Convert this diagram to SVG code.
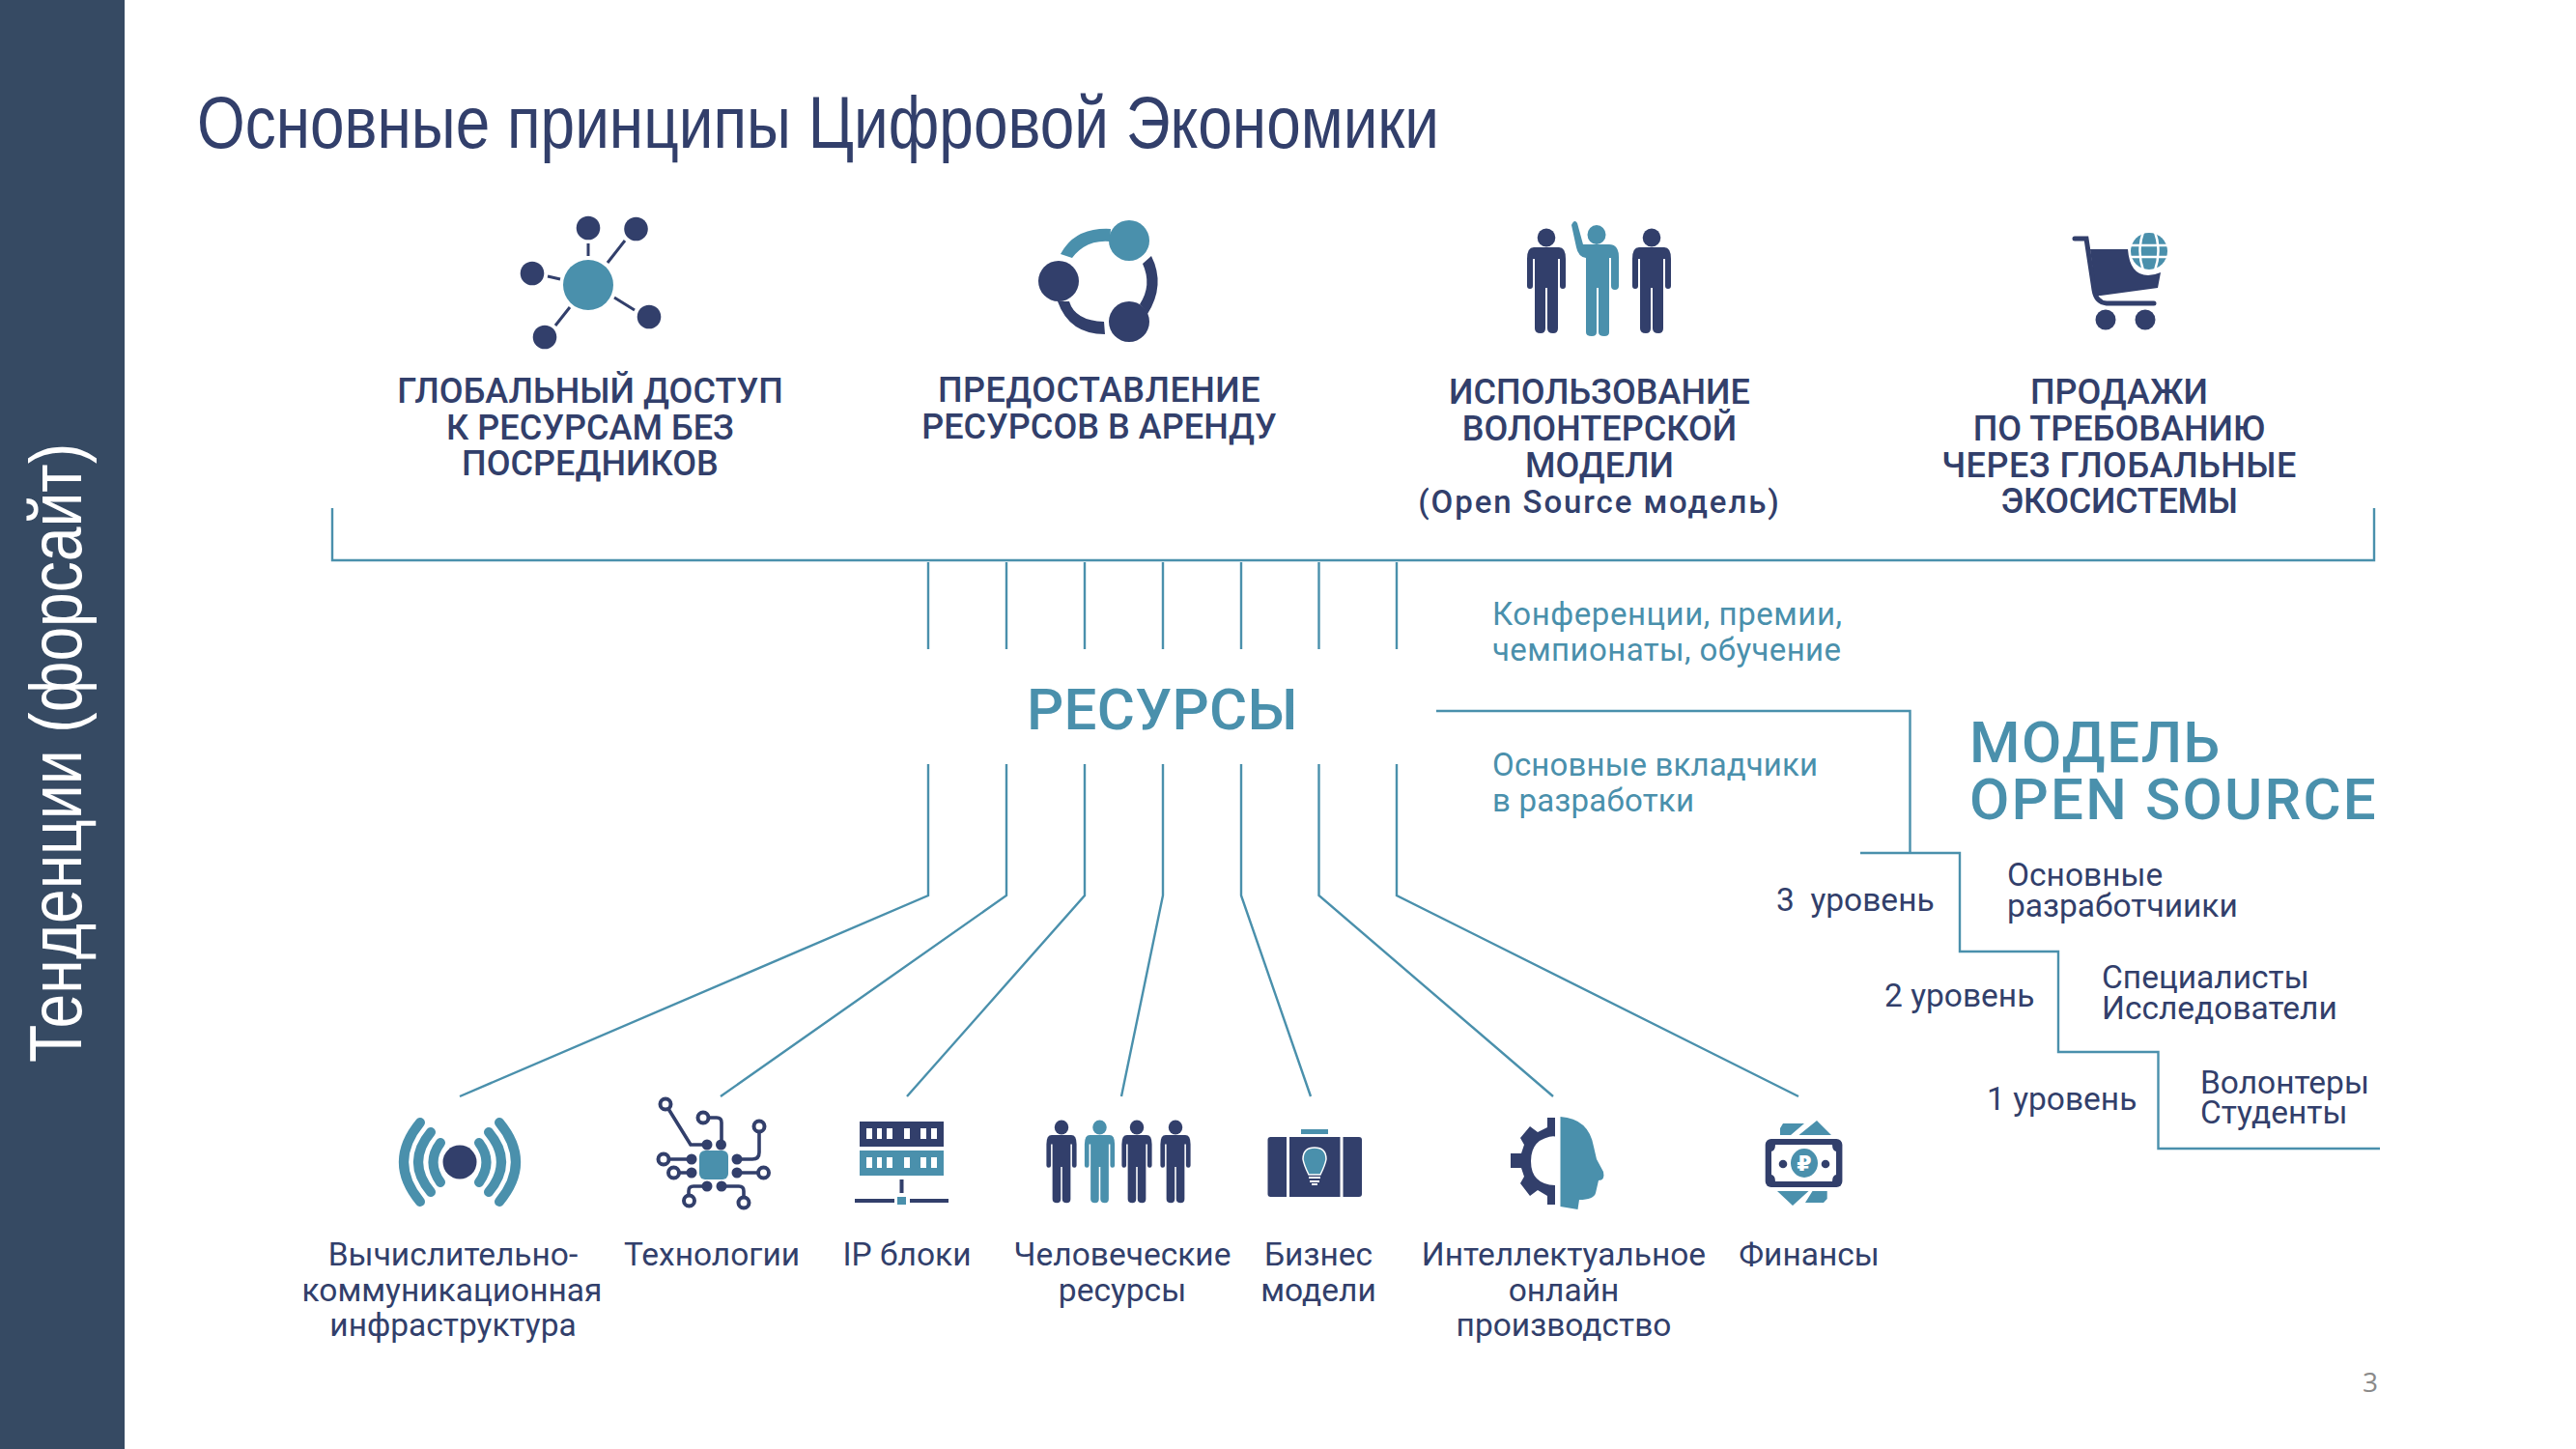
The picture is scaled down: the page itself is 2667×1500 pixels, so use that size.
<svg xmlns="http://www.w3.org/2000/svg" width="2667" height="1500" viewBox="0 0 2667 1500">
<style>
.n{fill:#323f6b}.t{fill:#4a90ac}
.c{fill:none;stroke:#4a90ac;stroke-width:2.4}
.txt{font-family:"Roboto","Noto Sans",sans-serif}
.nar{font-family:"Liberation Sans",Arial,sans-serif;font-size:76px}
.h{font-size:36px;font-weight:500;letter-spacing:.05px;text-anchor:middle;fill:#323f6b}
.l{font-size:33.5px;text-anchor:middle;fill:#323f6b}
.s{font-size:33.5px;fill:#323f6b}
.b{font-size:33px;fill:#4a90ac}
.big{font-size:60px;font-weight:500;letter-spacing:2px;fill:#4a90ac}
.w{fill:none;stroke:#323f6b;stroke-width:3.6}
.r{fill:#fff;stroke:#323f6b;stroke-width:4}
.a{fill:none;stroke:#4a90ac;stroke-width:10;stroke-linecap:round}
</style>
<defs>
<g id="person"><ellipse cx="0" cy="0" rx="9.3" ry="9.5"/><path d="M-13,10H13Q20,10 20,22V50Q20,53 17,53Q14,53 14,50V22H12V94Q12,99 7,99Q1,99 1,94V52H-1V94Q-1,99 -6,99Q-12,99 -12,94V22H-14V50Q-14,53 -17,53Q-20,53 -20,50V22Q-20,10 -13,10Z"/></g>
</defs>
<rect id="sidebar" x="0" y="0" width="129" height="1500" fill="#364a63"/>
<text class="nar" transform="translate(84,1100) rotate(-90)" fill="#fff" textLength="641" lengthAdjust="spacingAndGlyphs">Тенденции (форсайт)</text>
<text class="nar" x="204" y="153" fill="#323f6b" textLength="1286" lengthAdjust="spacingAndGlyphs">Основные принципы Цифровой Экономики</text>

<g id="connectors">
<path class="c" d="M344,526V580H2458V526"/>
<path class="c" d="M961,582V672M1042,582V672M1123,582V672M1204,582V672M1285,582V672M1365.500,582V672M1446,582V672"/>
<path class="c" d="M961,791V927L476,1135M1042,791V927L746,1135M1123,791V927L939,1135M1204,791V927L1161,1135M1285,791V927L1357,1135M1365.500,791V927L1608,1135M1446,791V927L1862,1135"/>
<path class="c" d="M1487,736H1977.500V883M1926,883H2029V985H2131V1089H2234.500V1189H2464"/>
</g>

<g id="node-global">
<circle class="t" cx="609" cy="295" r="26"/>
<g class="n"><circle cx="609" cy="236" r="12.300"/><circle cx="658.500" cy="237" r="12.300"/><circle cx="551" cy="283" r="12.300"/><circle cx="672" cy="328" r="12.300"/><circle cx="564" cy="349" r="12.300"/></g>
<path d="M609,252V265M647,249L629,272M567,286L580,289M636,308L657,321M590,318L575,337" fill="none" stroke="#323f6b" stroke-width="3"/>
<g class="txt"><text class="h" x="611" y="417">ГЛОБАЛЬНЫЙ ДОСТУП</text><text class="h" x="611" y="455">К РЕСУРСАМ БЕЗ</text><text class="h" x="611" y="492">ПОСРЕДНИКОВ</text></g>
</g>

<g id="node-rent">
<path d="M1098,263Q1113,235 1150,237L1149,250Q1124,248 1110,267Z" class="t"/>
<circle class="t" cx="1169" cy="249" r="21"/>
<circle class="n" cx="1096" cy="291" r="21"/>
<circle class="n" cx="1169" cy="333" r="21"/>
<path class="n" d="M1192,265Q1207,295 1188,325L1183,318L1180,315Q1193,295 1183,273Z"/>
<path class="n" d="M1095,312Q1107,346 1144,346L1143,333Q1113,332 1107,312Z"/>
<g class="txt"><text class="h" x="1138" y="416" style="letter-spacing:.5px">ПРЕДОСТАВЛЕНИЕ</text><text class="h" x="1138" y="454">РЕСУРСОВ В АРЕНДУ</text></g>
</g>

<g id="node-volunteer">
<use href="#person" x="1601" y="246" class="n"/>
<use href="#person" x="1710" y="246" class="n"/>
<ellipse class="t" cx="1653" cy="243" rx="9.500" ry="10"/>
<path class="t" d="M1627,233Q1630,226 1633,231L1639,253H1666Q1676,253 1676,266V296Q1676,300 1672,300Q1668,300 1668,296V267H1666V344Q1666,348 1661,348Q1655,348 1655,344V298H1653V344Q1653,348 1648,348Q1642,348 1642,344V267Q1634,266 1632,256Z"/>
<g class="txt"><text class="h" x="1656" y="418">ИСПОЛЬЗОВАНИЕ</text><text class="h" x="1656" y="456">ВОЛОНТЕРСКОЙ</text><text class="h" x="1656" y="494">МОДЕЛИ</text><text class="h" x="1656" y="531" style="font-size:33px;letter-spacing:1.9px">(Open Source модель)</text></g>
</g>

<g id="node-sales">
<path class="n" d="M2164,258H2203Q2205,285 2224,285Q2230,285 2237,282L2234,298L2175,306L2170,306Z"/>
<path d="M2148,247H2160L2168,300Q2170,313 2181,314H2230" fill="none" stroke="#323f6b" stroke-width="5" stroke-linecap="round"/>
<circle class="n" cx="2180" cy="331" r="10.500"/><circle class="n" cx="2221" cy="331" r="10.500"/>
<circle class="t" cx="2225" cy="260" r="19"/>
<path d="M2205,254H2245M2205,266H2245M2219,240Q2212,260 2219,280M2231,240Q2238,260 2231,280" fill="none" stroke="#fff" stroke-width="2.500"/>
<g class="txt"><text class="h" x="2194" y="418">ПРОДАЖИ</text><text class="h" x="2194" y="456">ПО ТРЕБОВАНИЮ</text><text class="h" x="2194" y="494" style="letter-spacing:.5px">ЧЕРЕЗ ГЛОБАЛЬНЫЕ</text><text class="h" x="2194" y="531" style="letter-spacing:-.3px">ЭКОСИСТЕМЫ</text></g>
</g>

<g id="node-resources"><text class="txt big" x="1063" y="755" style="letter-spacing:.3px">РЕСУРСЫ</text></g>

<g id="node-notes" class="txt">
<text class="b" x="1545" y="647" textLength="362">Конференции, премии,</text><text class="b" x="1545" y="684" textLength="361">чемпионаты, обучение</text>
<text class="b" x="1545" y="803" textLength="337">Основные вкладчики</text><text class="b" x="1545" y="840" textLength="209">в разработки</text>
</g>

<g id="node-opensource" class="txt">
<text class="big" x="2039" y="789" style="letter-spacing:1.500px">МОДЕЛЬ</text><text class="big" x="2039" y="848" style="letter-spacing:2.200px">OPEN SOURCE</text>
<text class="s" x="1839" y="943" xml:space="preserve">3  уровень</text>
<text class="s" x="2078" y="917">Основные</text><text class="s" x="2078" y="949">разработчиики</text>
<text class="s" x="1951" y="1042">2 уровень</text>
<text class="s" x="2176" y="1023">Специалисты</text><text class="s" x="2176" y="1055">Исследователи</text>
<text class="s" x="2057" y="1149">1 уровень</text>
<text class="s" x="2278" y="1132">Волонтеры</text><text class="s" x="2278" y="1163">Студенты</text>
</g>

<g id="node-infra">
<circle class="n" cx="476" cy="1203" r="17.500"/>
<path class="a" d="M435,1162Q401,1203 435,1244M446,1172Q420,1203 446,1234M456,1183Q441,1203 456,1224M517,1162Q551,1203 517,1244M506,1172Q532,1203 506,1234M496,1183Q511,1203 496,1224"/>
<g class="txt"><text class="l" x="469" y="1310">Вычислительно-</text><text class="l" x="468" y="1347">коммуникационная</text><text class="l" x="469" y="1383">инфраструктура</text></g>
</g>

<g id="node-tech">
<rect class="t" x="724" y="1191" width="30" height="30" rx="6"/>
<path class="w" d="M689,1143L715,1185H732M728,1157H742Q747,1157 747,1162V1185M786,1166V1193Q786,1200 779,1200H763M687,1200H716M697,1214H716M763,1214H791M732,1228H718Q713,1228 713,1233V1243M747,1228H765Q770,1228 770,1233V1245"/>
<g class="n"><circle cx="732" cy="1185" r="5.500"/><circle cx="746.500" cy="1185" r="5.500"/><circle cx="716" cy="1200" r="5.500"/><circle cx="716" cy="1214" r="5.500"/><circle cx="763" cy="1200" r="5.500"/><circle cx="763" cy="1214" r="5.500"/><circle cx="732" cy="1228" r="5.500"/><circle cx="747" cy="1228" r="5.500"/></g>
<g class="r"><circle cx="689" cy="1143" r="5.500"/><circle cx="728" cy="1157" r="5.500"/><circle cx="786" cy="1166" r="5.500"/><circle cx="687" cy="1200" r="5.500"/><circle cx="697.500" cy="1214" r="5.500"/><circle cx="790.500" cy="1214" r="5.500"/><circle cx="713.500" cy="1243" r="5.500"/><circle cx="770" cy="1245" r="5.500"/></g>
<text class="txt l" x="737" y="1310">Технологии</text>
</g>

<g id="node-ip">
<rect class="n" x="890" y="1161" width="87" height="26"/><rect class="t" x="890" y="1191" width="87" height="26"/>
<path d="M897,1168h6v11h-6zM908,1168h5v11h-5zM918,1168h6v11h-6zM936,1168h6v11h-6zM953,1168h6v11h-6zM964,1168h6v11h-6zM897,1198h6v11h-6zM908,1198h5v11h-5zM918,1198h6v11h-6zM936,1198h6v11h-6zM953,1198h6v11h-6zM964,1198h6v11h-6z" fill="#fff"/>
<rect class="n" x="931.500" y="1221" width="4" height="14"/><rect class="n" x="885" y="1241" width="41" height="4"/><rect class="n" x="942" y="1241" width="40" height="4"/><rect class="t" x="929" y="1239" width="9" height="8"/>
<text class="txt l" x="939" y="1310">IP блоки</text>
</g>

<g id="node-human">
<g transform="translate(1099,1167) scale(.78,.79)" class="n"><use href="#person"/></g>
<g transform="translate(1138.500,1167) scale(.78,.79)" class="t"><use href="#person"/></g>
<g transform="translate(1177,1167) scale(.78,.79)" class="n"><use href="#person"/></g>
<g transform="translate(1217,1167) scale(.78,.79)" class="n"><use href="#person"/></g>
<g class="txt"><text class="l" x="1162" y="1310">Человеческие</text><text class="l" x="1162" y="1347">ресурсы</text></g>
</g>

<g id="node-business">
<rect class="n" x="1312.500" y="1177" width="97.500" height="62" rx="3"/>
<rect class="t" x="1347" y="1169" width="28" height="5"/>
<path d="M1333.500,1177V1239M1389,1177V1239" stroke="#fff" stroke-width="3"/>
<path class="t" stroke="#fff" stroke-width="1.500" d="M1361,1188Q1373,1188 1373,1200Q1372,1206 1367,1216H1355Q1350,1206 1349,1200Q1349,1188 1361,1188Z"/>
<path d="M1355,1219H1367M1356,1223H1366M1358,1226H1364" stroke="#fff" stroke-width="2"/>
<g class="txt"><text class="l" x="1365" y="1310">Бизнес</text><text class="l" x="1365" y="1347">модели</text></g>
</g>

<g id="node-intel">
<path class="n" d="M1602,1157H1610V1247H1602V1238L1592,1232L1584,1238L1574,1225L1578,1218L1575,1209H1564V1194H1575L1578,1185L1574,1178L1584,1166L1592,1172L1602,1167ZM1610,1176Q1585,1178 1585,1202Q1585,1226 1610,1227Z" fill-rule="evenodd"/>
<path class="t" d="M1615.500,1156Q1645,1158 1650,1187L1653,1200L1660,1213Q1662,1222 1655,1222L1652,1235Q1650,1242 1635,1242L1633.500,1252L1615.500,1249Z"/>
<g class="txt"><text class="l" x="1619" y="1310">Интеллектуальное</text><text class="l" x="1619" y="1347">онлайн</text><text class="l" x="1619" y="1383">производство</text></g>
</g>

<g id="node-finance">
<path class="t" d="M1846,1163H1868L1854,1175H1843V1168ZM1881,1160L1896,1175H1862.500ZM1840,1233H1872.500L1856,1248ZM1876.500,1233H1891.700V1241L1888,1245H1869Z"/>
<rect class="n" x="1827.700" y="1179" width="79.700" height="50" rx="6"/>
<path d="M1838,1185H1897Q1897,1191 1901,1192V1216Q1897,1217 1897,1223H1838Q1838,1217 1834,1216V1192Q1838,1191 1838,1185Z" fill="#fff"/>
<ellipse class="t" cx="1868" cy="1204" rx="14" ry="15"/>
<circle class="n" cx="1846" cy="1205" r="4.300"/><circle class="n" cx="1890" cy="1205" r="4.300"/>
<text x="1868" y="1212" font-size="22" font-weight="700" fill="#fff" text-anchor="middle" style="font-family:'DejaVu Sans',sans-serif">₽</text>
<text class="txt l" x="1873" y="1310">Финансы</text>
</g>

<text id="page-number" x="2454" y="1441" font-size="28" fill="#8a8a8a" text-anchor="middle" style="font-family:'Open Sans',sans-serif">3</text>
</svg>
